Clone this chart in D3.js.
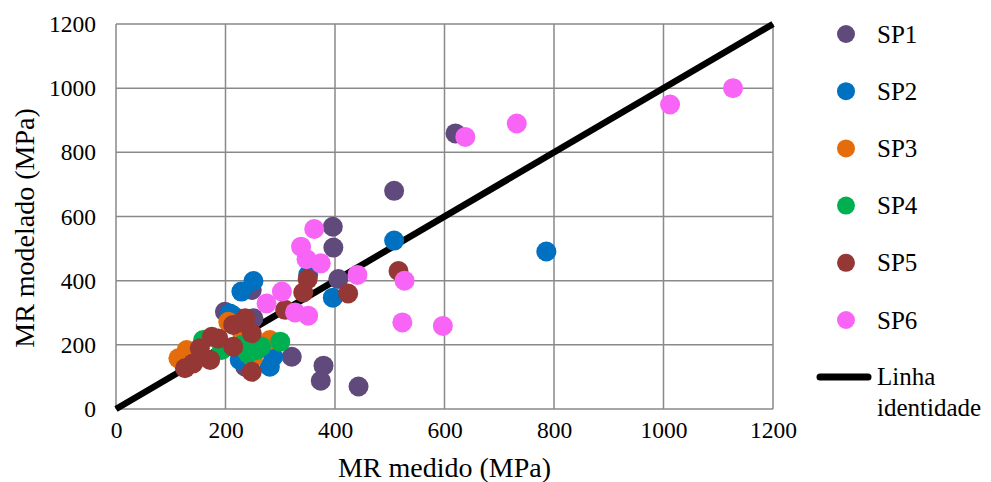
<!DOCTYPE html>
<html>
<head>
<meta charset="utf-8">
<script src="https://cdn.jsdelivr.net/npm/d3@7"></script>
<style>
    body { margin: 0; background: #fff; }
    svg text { font-family: "Liberation Serif", "Times New Roman", serif; fill: #000; }
</style>
</head>
<body>
<svg id="chart" width="991" height="482"></svg>
<script>
// series names and colours
const seriesNames = ['SP1', 'SP2', 'SP3', 'SP4', 'SP5', 'SP6'];
const seriesColors = ['#604A7B', '#0070C0', '#E46C0A', '#00B050', '#953735', '#F865F6'];

// [MR medido, MR modelado] pairs
const sp1 = [[620, 859], [508, 680], [396, 568], [397, 503], [406, 405], [248, 371], [199, 303],
    [251, 283], [321, 163], [379, 135], [374, 88], [443, 70], [236, 132]];
const sp2 = [[508, 525], [786, 491], [351, 418], [396, 347], [251, 399], [229, 366], [208, 298],
    [226, 153], [281, 132], [287, 163], [215, 290]];
const sp3 = [[114, 158], [129, 184], [205, 272], [281, 215], [250, 159], [230, 240]];
const sp4 = [[300, 210], [257, 184], [241, 173], [159, 215], [193, 184], [265, 195], [230, 200]];
const sp5 = [[516, 430], [350, 405], [342, 363], [424, 360], [309, 309], [236, 283], [214, 262],
    [248, 236], [214, 194], [187, 220], [172, 153], [141, 142], [126, 127], [153, 189], [248, 116],
    [175, 225], [230, 270]];
const sp6 = [[1127, 1000], [1012, 949], [638, 848], [732, 890], [362, 561], [338, 506], [348, 467],
    [374, 454], [441, 418], [527, 400], [303, 366], [275, 329], [327, 301], [351, 291], [523, 270],
    [597, 259]];
const allSeries = [sp1, sp2, sp3, sp4, sp5, sp6];

const identityLine = [[0, 0], [1200, 1200]];
const tickValues = [0, 200, 400, 600, 800, 1000, 1200];

const svg = d3.select('#chart');
const margin = { left: 116, right: 218, top: 24, bottom: 73 };
const width = 991 - margin.left - margin.right;
const height = 482 - margin.top - margin.bottom;

const x = d3.scaleLinear().domain([0, 1200]).range([margin.left, margin.left + width]);
const y = d3.scaleLinear().domain([0, 1200]).range([margin.top + height, margin.top]);

// grid lines
const grid = svg.append('g');
grid.selectAll('.vgrid')
    .data(tickValues)
    .enter()
    .append('line')
    .attr('x1', d => x(d)).attr('x2', d => x(d))
    .attr('y1', y(0)).attr('y2', y(1200))
    .attr('stroke', '#898989')
    .attr('stroke-width', 1.5);
grid.selectAll('.hgrid')
    .data(tickValues)
    .enter()
    .append('line')
    .attr('x1', x(0)).attr('x2', x(1200))
    .attr('y1', d => y(d)).attr('y2', d => y(d))
    .attr('stroke', '#898989')
    .attr('stroke-width', 1.5);

// axes (labels only, lines come from the grid)
const xAxis = svg.append('g')
    .attr('transform', `translate(0,${y(0)})`)
    .call(d3.axisBottom(x).tickValues(tickValues).tickFormat(d3.format('d')).tickSize(0).tickPadding(12));
const yAxis = svg.append('g')
    .attr('transform', `translate(${x(0)},0)`)
    .call(d3.axisLeft(y).tickValues(tickValues).tickFormat(d3.format('d')).tickSize(0).tickPadding(20));
[xAxis, yAxis].forEach(a => {
    a.attr('font-family', null).attr('font-size', null);
    a.select('.domain').remove();
    a.selectAll('text')
        .style('font-family', '"Liberation Serif", serif')
        .style('font-size', '23.5px')
        .attr('fill', '#000');
});

// identity line
svg.append('path')
    .datum(identityLine)
    .attr('d', d3.line().x(d => x(d[0])).y(d => y(d[1])))
    .attr('stroke', '#000')
    .attr('stroke-width', 6.5)
    .attr('fill', 'none');

// points
allSeries.forEach((data, i) => {
    svg.append('g')
        .selectAll('circle')
        .data(data)
        .enter()
        .append('circle')
        .attr('cx', d => x(d[0]))
        .attr('cy', d => y(d[1]))
        .attr('r', 10)
        .attr('fill', seriesColors[i]);
});

// axis titles
svg.append('text')
    .attr('x', x(600))
    .attr('y', 477)
    .attr('text-anchor', 'middle')
    .style('font-size', '28px')
    .text('MR medido (MPa)');
svg.append('text')
    .attr('transform', `translate(34,228) rotate(-90)`)
    .attr('text-anchor', 'middle')
    .style('font-size', '28px')
    .text('MR modelado (MPa)');

// legend
const legend = svg.append('g');
seriesNames.forEach((name, i) => {
    const ly = 34 + i * 57.2;
    legend.append('circle')
        .attr('cx', 846).attr('cy', ly).attr('r', 9)
        .attr('fill', seriesColors[i]);
    legend.append('text')
        .attr('x', 877).attr('y', ly + 8.5)
        .style('font-size', '25px')
        .text(name);
});
legend.append('line')
    .attr('x1', 820).attr('x2', 868)
    .attr('y1', 377).attr('y2', 377)
    .attr('stroke', '#000')
    .attr('stroke-width', 7)
    .attr('stroke-linecap', 'round');
legend.append('text')
    .attr('x', 877).attr('y', 385)
    .style('font-size', '25px')
    .text('Linha');
legend.append('text')
    .attr('x', 877).attr('y', 416)
    .style('font-size', '25px')
    .text('identidade');
</script>
</body>
</html>
